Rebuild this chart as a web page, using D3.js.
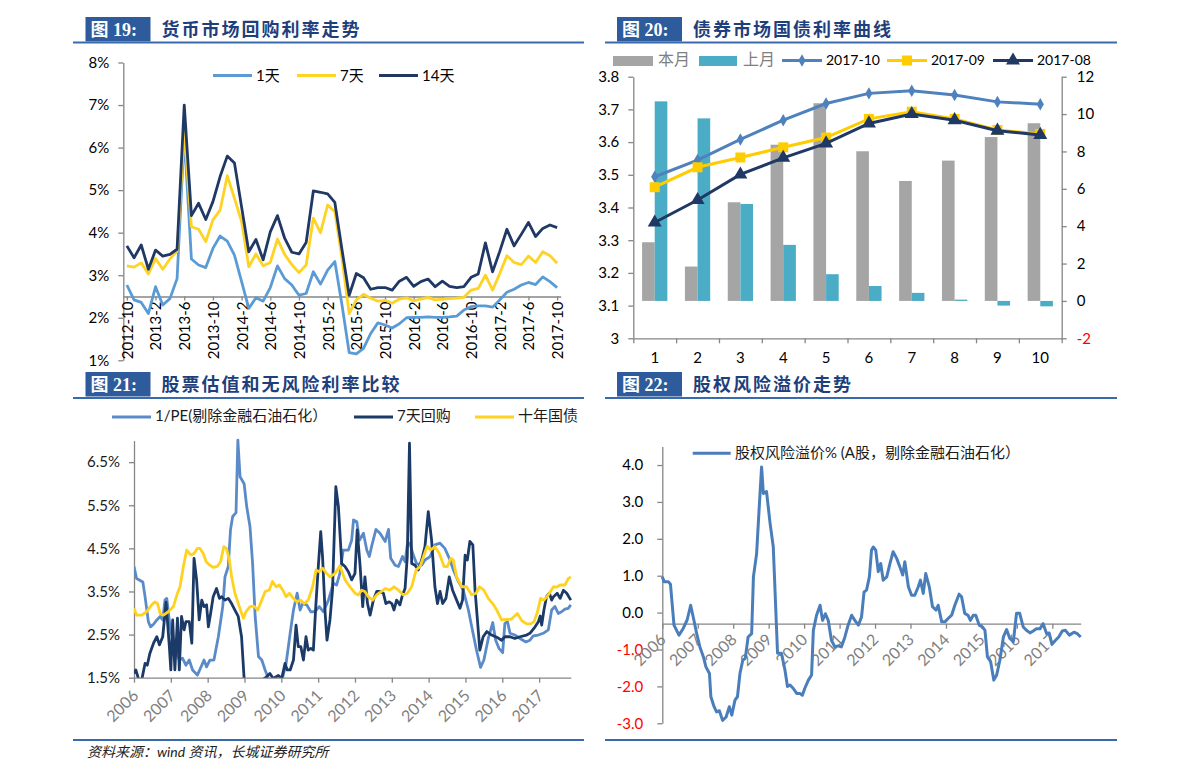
<!DOCTYPE html>
<html><head><meta charset="utf-8">
<script src="https://cdn.jsdelivr.net/npm/d3@7"></script>
<style>body{margin:0;background:#fff}svg{display:block}</style>
</head><body>
<script>
// ---------------- DATA ----------------
// Fig 19: monthly repo rates 2012-10 .. 2017-10 (%)
const repoStart = [2012, 10];
const repoTickLabels = ["2012-10","2013-2","2013-6","2013-10","2014-2","2014-6","2014-10","2015-2","2015-6","2015-10","2016-2","2016-6","2016-10","2017-2","2017-6","2017-10"];
const repo1d = [2.77,2.42,2.36,2.10,2.73,2.30,2.45,2.92,6.3,3.38,3.24,3.18,3.63,3.92,3.80,3.47,2.85,2.22,2.47,2.39,2.71,3.22,2.92,2.77,2.53,2.57,3.08,2.79,3.12,3.32,2.3,1.18,1.15,1.28,1.63,1.88,1.83,1.76,1.86,2.00,2.01,2.01,2.02,2.01,2.01,2.02,2.04,2.18,2.26,2.28,2.28,2.25,2.42,2.60,2.67,2.77,2.83,2.78,2.96,2.85,2.71];
const repo7d = [3.22,3.19,3.29,3.03,3.39,3.14,3.38,3.57,6.4,4.14,4.08,3.79,4.30,4.53,5.34,4.81,4.26,3.20,3.50,3.22,3.30,3.85,3.49,3.25,3.06,3.24,4.34,4.00,4.65,4.49,3.4,2.10,2.42,2.55,2.46,2.39,2.41,2.34,2.44,2.47,2.40,2.44,2.48,2.42,2.44,2.45,2.46,2.48,2.65,2.69,3.00,2.65,3.04,3.46,3.30,3.25,3.45,3.30,3.55,3.46,3.28];
const repo14d = [3.69,3.41,3.71,3.14,3.59,3.45,3.49,3.61,7.0,4.40,4.69,4.31,4.73,5.32,5.80,5.64,4.6,3.55,3.84,3.36,4.02,4.40,3.87,3.54,3.50,3.77,4.98,4.95,4.91,4.71,3.6,2.53,3.04,2.94,2.67,2.71,2.71,2.65,2.86,2.95,2.74,2.85,2.91,2.73,2.86,2.74,2.71,2.73,2.95,3.03,3.76,3.08,3.56,4.08,3.69,3.96,4.24,3.91,4.10,4.18,4.12];
const repoNames = ["1天","7天","14天"];

// Fig 20: bond yield curve
const tenors = [1,2,3,4,5,6,7,8,9,10];
const chgThisMonth = [3.14,1.84,5.28,8.36,10.58,8.01,6.42,7.51,8.77,9.51];
const chgLastMonth = [10.68,9.77,5.19,3.0,1.43,0.80,0.43,0.07,-0.25,-0.29];
const curve201710 = [3.494,3.545,3.608,3.667,3.718,3.749,3.757,3.744,3.723,3.716];
const curve201709 = [3.462,3.523,3.553,3.584,3.614,3.671,3.693,3.671,3.637,3.625];
const curve201708 = [3.354,3.423,3.501,3.552,3.596,3.657,3.686,3.667,3.635,3.622];
const leftTicks20 = ["3","3.1","3.2","3.3","3.4","3.5","3.6","3.7","3.8"];
const rightTicks20 = ["-2","0","2","4","6","8","10","12"];

// Fig 21: [decimal year, %]
const invPE = [[2006.00,4.08],[2006.07,3.80],[2006.24,3.72],[2006.30,3.38],[2006.39,2.80],[2006.45,2.68],[2006.53,2.74],[2006.62,2.84],[2006.71,2.92],[2006.78,2.84],[2006.84,3.30],[2006.89,3.34],[2006.98,2.68],[2007.07,2.30],[2007.16,2.10],[2007.23,1.91],[2007.32,1.95],[2007.41,1.79],[2007.50,1.91],[2007.59,1.68],[2007.72,1.56],[2007.84,1.79],[2007.90,1.91],[2007.97,1.75],[2008.06,1.91],[2008.17,1.91],[2008.29,2.45],[2008.41,3.15],[2008.47,3.84],[2008.56,4.08],[2008.62,4.93],[2008.68,5.24],[2008.77,5.33],[2008.82,7.01],[2008.88,6.16],[2008.99,6.0],[2009.06,5.47],[2009.15,5.0],[2009.22,4.15],[2009.29,2.92],[2009.38,1.99],[2009.47,1.91],[2009.56,1.68],[2009.65,1.48],[2009.80,1.3],[2010.02,1.35],[2010.04,1.52],[2010.13,1.83],[2010.24,2.53],[2010.33,3.07],[2010.43,3.46],[2010.51,3.07],[2010.58,3.22],[2010.69,3.19],[2010.80,3.03],[2010.91,3.03],[2011.03,3.15],[2011.14,3.03],[2011.28,3.30],[2011.41,3.69],[2011.50,3.65],[2011.59,3.92],[2011.68,4.46],[2011.82,4.46],[2011.91,4.69],[2011.96,5.16],[2012.05,5.12],[2012.12,4.69],[2012.23,4.85],[2012.32,4.46],[2012.39,4.31],[2012.45,4.54],[2012.57,4.94],[2012.68,4.85],[2012.82,4.66],[2012.91,4.94],[2012.97,4.27],[2013.09,4.11],[2013.18,4.08],[2013.29,4.31],[2013.36,4.19],[2013.42,4.58],[2013.49,4.62],[2013.57,4.38],[2013.67,4.15],[2013.81,4.11],[2013.90,4.23],[2014.04,4.31],[2014.17,4.58],[2014.31,4.62],[2014.44,4.50],[2014.58,4.23],[2014.67,4.00],[2014.81,3.73],[2014.94,3.53],[2015.08,3.07],[2015.17,2.68],[2015.30,2.14],[2015.41,1.74],[2015.50,1.91],[2015.62,2.41],[2015.74,2.78],[2015.82,2.37],[2015.91,2.18],[2016.01,2.08],[2016.07,2.76],[2016.14,2.80],[2016.21,2.53],[2016.34,2.49],[2016.48,2.41],[2016.64,2.33],[2016.75,2.37],[2016.84,2.47],[2016.98,2.49],[2017.11,2.53],[2017.25,2.61],[2017.34,3.07],[2017.43,3.15],[2017.52,2.99],[2017.61,3.03],[2017.70,3.09],[2017.79,3.11],[2017.86,3.19]];
const repo7dLong = [[2006.00,1.60],[2006.05,1.68],[2006.12,1.48],[2006.21,1.45],[2006.30,1.83],[2006.36,1.79],[2006.43,2.06],[2006.53,2.30],[2006.62,2.45],[2006.69,2.26],[2006.78,2.45],[2006.87,3.25],[2006.96,2.22],[2007.00,1.68],[2007.05,2.84],[2007.11,1.68],[2007.18,2.88],[2007.23,1.68],[2007.29,2.92],[2007.36,2.61],[2007.41,2.80],[2007.50,2.80],[2007.57,2.30],[2007.63,4.27],[2007.70,3.77],[2007.77,2.84],[2007.84,3.30],[2007.90,3.15],[2007.97,3.19],[2008.02,2.68],[2008.08,2.99],[2008.15,3.38],[2008.24,3.57],[2008.32,3.34],[2008.38,3.38],[2008.47,3.30],[2008.56,3.34],[2008.65,3.22],[2008.74,3.07],[2008.83,2.92],[2008.92,2.45],[2008.99,1.48],[2009.10,1.0],[2009.40,1.0],[2009.53,1.48],[2009.60,1.52],[2009.69,1.60],[2009.78,1.48],[2009.92,1.55],[2010.01,1.48],[2010.10,1.83],[2010.16,1.68],[2010.24,1.68],[2010.33,1.91],[2010.40,2.72],[2010.46,2.22],[2010.53,2.22],[2010.60,1.91],[2010.67,2.45],[2010.73,2.14],[2010.80,2.18],[2010.87,2.14],[2010.94,3.22],[2011.01,4.15],[2011.07,4.89],[2011.12,4.3],[2011.19,3.0],[2011.24,2.37],[2011.32,2.84],[2011.39,3.53],[2011.48,5.93],[2011.55,5.47],[2011.64,4.15],[2011.73,4.08],[2011.82,3.96],[2011.91,3.77],[2012.00,3.92],[2012.06,4.93],[2012.14,4.08],[2012.21,3.15],[2012.27,3.84],[2012.34,3.22],[2012.41,2.95],[2012.50,3.30],[2012.59,3.50],[2012.68,3.50],[2012.77,3.46],[2012.84,3.22],[2012.93,3.26],[2013.00,3.22],[2013.06,3.07],[2013.13,3.30],[2013.22,3.19],[2013.29,3.42],[2013.36,3.57],[2013.42,4.31],[2013.48,6.94],[2013.54,4.15],[2013.63,4.11],[2013.72,4.00],[2013.81,4.23],[2013.90,4.54],[2013.99,5.35],[2014.08,4.69],[2014.17,3.61],[2014.24,3.22],[2014.31,3.50],[2014.38,3.22],[2014.47,3.34],[2014.56,3.84],[2014.65,3.53],[2014.76,3.30],[2014.85,3.11],[2014.92,3.30],[2014.99,4.34],[2015.05,4.23],[2015.12,4.66],[2015.20,4.58],[2015.26,3.53],[2015.39,2.14],[2015.48,2.45],[2015.58,2.57],[2015.71,2.49],[2015.85,2.44],[2015.98,2.37],[2016.07,2.45],[2016.21,2.45],[2016.34,2.41],[2016.48,2.45],[2016.66,2.49],[2016.75,2.53],[2016.89,2.68],[2016.98,2.80],[2017.03,2.93],[2017.07,2.72],[2017.13,3.07],[2017.20,3.38],[2017.28,3.46],[2017.34,3.30],[2017.39,3.38],[2017.49,3.46],[2017.57,3.34],[2017.66,3.53],[2017.75,3.46],[2017.86,3.30]];
const bond10y = [[2006.00,3.11],[2006.07,2.95],[2006.21,2.95],[2006.34,3.03],[2006.48,3.19],[2006.57,3.26],[2006.64,3.22],[2006.71,2.99],[2006.80,2.95],[2006.93,3.03],[2007.07,3.15],[2007.18,3.46],[2007.25,3.61],[2007.34,4.08],[2007.43,4.46],[2007.54,4.35],[2007.63,4.38],[2007.72,4.50],[2007.79,4.50],[2007.88,4.38],[2007.96,4.19],[2008.06,4.11],[2008.15,4.06],[2008.26,4.08],[2008.35,4.19],[2008.44,4.54],[2008.51,4.50],[2008.59,4.23],[2008.65,3.84],[2008.74,3.46],[2008.86,3.15],[2008.97,2.88],[2009.04,3.03],[2009.15,3.15],[2009.26,3.16],[2009.36,3.07],[2009.47,3.30],[2009.56,3.50],[2009.67,3.53],[2009.76,3.73],[2009.86,3.61],[2009.95,3.65],[2010.04,3.53],[2010.13,3.38],[2010.22,3.46],[2010.33,3.34],[2010.42,3.26],[2010.52,3.30],[2010.62,3.22],[2010.73,3.30],[2010.85,3.61],[2010.94,4.00],[2011.03,3.96],[2011.12,4.04],[2011.23,3.92],[2011.32,3.84],[2011.46,3.92],[2011.59,4.09],[2011.73,3.77],[2011.86,3.61],[2012.00,3.46],[2012.09,3.42],[2012.18,3.53],[2012.27,3.50],[2012.36,3.38],[2012.48,3.30],[2012.59,3.42],[2012.72,3.50],[2012.82,3.57],[2012.95,3.53],[2013.06,3.61],[2013.18,3.53],[2013.31,3.42],[2013.42,3.46],[2013.54,3.61],[2013.66,4.00],[2013.77,4.08],[2013.86,4.31],[2013.96,4.55],[2014.05,4.46],[2014.17,4.54],[2014.29,4.38],[2014.42,4.08],[2014.51,4.08],[2014.60,4.27],[2014.67,4.23],[2014.76,3.84],[2014.90,3.61],[2015.03,3.61],[2015.17,3.42],[2015.29,3.46],[2015.38,3.61],[2015.50,3.53],[2015.62,3.34],[2015.74,3.22],[2015.85,3.07],[2015.98,2.84],[2016.12,2.85],[2016.25,2.86],[2016.41,2.99],[2016.53,2.82],[2016.66,2.75],[2016.77,2.75],[2016.86,2.80],[2016.95,3.01],[2017.04,3.34],[2017.13,3.30],[2017.25,3.42],[2017.39,3.61],[2017.48,3.60],[2017.57,3.65],[2017.70,3.65],[2017.79,3.80],[2017.86,3.84]];
const yTicks21 = [1.5,2.5,3.5,4.5,5.5,6.5];
const years = [2006,2007,2008,2009,2010,2011,2012,2013,2014,2015,2016,2017];

// Fig 22: equity risk premium [decimal year, %]
const erp = [[2006.00,0.97],[2006.05,0.84],[2006.17,0.84],[2006.23,0.77],[2006.33,-0.34],[2006.47,-0.61],[2006.59,-0.43],[2006.70,-0.20],[2006.80,0.20],[2006.89,-0.20],[2006.97,-0.57],[2007.06,-0.93],[2007.16,-1.20],[2007.23,-1.47],[2007.33,-1.65],[2007.37,-2.28],[2007.46,-2.55],[2007.53,-2.69],[2007.61,-2.66],[2007.70,-2.92],[2007.80,-2.83],[2007.89,-2.55],[2007.96,-2.78],[2008.05,-2.37],[2008.12,-2.28],[2008.19,-1.65],[2008.27,-1.29],[2008.34,-1.24],[2008.42,-0.66],[2008.52,-0.57],[2008.57,0.97],[2008.66,1.60],[2008.73,2.8],[2008.80,3.95],[2008.85,3.23],[2008.94,3.28],[2009.04,2.42],[2009.13,1.78],[2009.25,-1.10],[2009.36,-1.10],[2009.46,-1.56],[2009.53,-2.00],[2009.60,-1.96],[2009.69,-2.05],[2009.79,-2.19],[2009.88,-2.19],[2009.95,-2.24],[2010.02,-2.05],[2010.12,-1.83],[2010.21,-1.69],[2010.26,-0.48],[2010.35,-0.07],[2010.45,0.20],[2010.52,-0.21],[2010.60,-0.03],[2010.68,-0.21],[2010.77,-0.75],[2010.87,-0.93],[2010.96,-0.90],[2011.05,-0.93],[2011.15,-0.66],[2011.24,-0.34],[2011.34,-0.07],[2011.43,-0.21],[2011.53,-0.34],[2011.62,-0.11],[2011.69,0.56],[2011.76,0.61],[2011.84,0.97],[2011.90,1.69],[2011.95,1.78],[2012.02,1.69],[2012.09,1.11],[2012.16,1.33],[2012.23,0.88],[2012.33,0.97],[2012.42,1.33],[2012.51,1.65],[2012.61,1.47],[2012.70,1.24],[2012.78,1.02],[2012.84,1.38],[2012.94,0.70],[2013.03,0.47],[2013.12,0.47],[2013.22,0.70],[2013.28,0.88],[2013.36,0.52],[2013.43,1.06],[2013.53,0.70],[2013.62,0.16],[2013.72,0.07],[2013.78,0.20],[2013.88,-0.25],[2013.97,-0.25],[2014.06,-0.16],[2014.16,-0.07],[2014.25,0.20],[2014.37,0.50],[2014.44,0.43],[2014.53,-0.02],[2014.62,-0.07],[2014.69,-0.21],[2014.77,-0.07],[2014.84,-0.07],[2014.94,-0.34],[2015.03,-0.39],[2015.10,-0.48],[2015.17,-1.20],[2015.26,-1.33],[2015.35,-1.83],[2015.43,-1.69],[2015.52,-1.29],[2015.62,-0.66],[2015.71,-0.46],[2015.80,-0.70],[2015.90,-0.79],[2015.99,-0.02],[2016.08,-0.02],[2016.18,-0.39],[2016.27,-0.48],[2016.37,-0.55],[2016.46,-0.50],[2016.55,-0.44],[2016.65,-0.44],[2016.74,-0.30],[2016.84,-0.57],[2016.91,-0.55],[2016.99,-0.86],[2017.09,-0.75],[2017.18,-0.66],[2017.28,-0.50],[2017.37,-0.48],[2017.48,-0.61],[2017.61,-0.53],[2017.70,-0.57],[2017.80,-0.66]];
const yTicks22 = [-3,-2,-1,0,1,2,3,4];

// ---------------- DRAW ----------------
const FONT = 'Lato, "Noto Sans CJK SC", sans-serif';
const AX = '#868686';
const svg = d3.select('body').append('svg').attr('width',1191).attr('height',780)
  .style('background','#fff').attr('font-family',FONT);

function header(bx, by, label, title, lx1, lx2, ly){
  svg.append('rect').attr('x',bx).attr('y',by).attr('width',65).attr('height',24.5).attr('fill','#2D5B9B');
  svg.append('text').attr('x',bx+5).attr('y',by+19).text(label).attr('fill','#fff')
    .attr('font-size',18).attr('font-weight','bold').attr('font-family','"Liberation Serif","Noto Sans CJK SC",serif');
  svg.append('text').attr('x',bx+76).attr('y',by+19).text(title).attr('fill','#1F3F7C')
    .attr('font-size',18).attr('letter-spacing',2).attr('font-weight','bold').attr('font-family','"Noto Sans CJK SC",sans-serif');
  svg.append('line').attr('x1',lx1).attr('x2',lx2).attr('y1',ly).attr('y2',ly).attr('stroke','#3A6AAE').attr('stroke-width',2);
}
header(85.5,17,'图 19:','货币市场回购利率走势',73,584,42.5);
header(617,17,'图 20:','债券市场国债利率曲线',605,1117,42.5);
header(85.5,372,'图 21:','股票估值和无风险利率比较',73,584,398);
header(617,372,'图 22:','股权风险溢价走势',605,1117,398);
svg.append('line').attr('x1',73).attr('x2',584).attr('y1',740).attr('y2',740).attr('stroke','#3A6AAE').attr('stroke-width',2);
svg.append('line').attr('x1',605).attr('x2',1117).attr('y1',740).attr('y2',740).attr('stroke','#3A6AAE').attr('stroke-width',2);
svg.append('text').attr('x',87).attr('y',757).text('资料来源：wind 资讯，长城证券研究所')
  .attr('font-size',14).attr('font-style','italic').attr('fill','#222');

function styleAxis(g, size, color){
  g.attr('font-family',FONT).attr('font-size',size);
  g.selectAll('.domain').attr('stroke',AX).attr('stroke-width',1.3);
  g.selectAll('.tick line').attr('stroke',AX).attr('stroke-width',1.3);
  g.selectAll('.tick text').attr('fill',color||'#000');
}

// ===== Fig 19 =====
(function(){
  const months = repo1d.map((_,i)=>{const k=repoStart[1]-1+i; return (repoStart[0]+Math.floor(k/12))+'-'+(k%12+1);});
  const x = d3.scalePoint().domain(months).range([123.3,560.7]).padding(0.5);
  const y = d3.scaleLinear().domain([1,8]).range([360.3,62.5]);
  const gy = svg.append('g').attr('transform','translate(123.3,0)')
    .call(d3.axisLeft(y).tickValues(d3.range(1,9)).tickSize(5).tickSizeOuter(0).tickPadding(9).tickFormat(d=>d+'%'));
  styleAxis(gy,15);
  const gx = svg.append('g').attr('transform',`translate(0,${y(2.5)})`)
    .call(d3.axisBottom(x).tickValues(repoTickLabels).tickSize(4).tickSizeOuter(0));
  styleAxis(gx,15);
  gx.selectAll('.tick text').attr('transform','rotate(-90)').attr('x',-5).attr('y',0).attr('dy','0.36em').attr('text-anchor','end');
  const series = [repo1d,repo7d,repo14d], cols = ['#5B9BD5','#FFD324','#1F3864'];
  series.forEach((s,k)=>{
    svg.append('path').datum(s).attr('fill','none').attr('stroke',cols[k]).attr('stroke-width',2.8).attr('stroke-linejoin','round')
      .attr('d',d3.line().x((d,i)=>x(months[i])).y(d=>y(d)));
  });
  const lx=[213,297,379];
  repoNames.forEach((n,k)=>{
    svg.append('line').attr('x1',lx[k]).attr('x2',lx[k]+39).attr('y1',75.5).attr('y2',75.5).attr('stroke',cols[k]).attr('stroke-width',3);
    svg.append('text').attr('x',lx[k]+43).attr('y',75.5).attr('dy','0.35em').text(n).attr('font-size',15).attr('fill','#000');
  });
})();

// ===== Fig 20 =====
(function(){
  const x = d3.scaleBand().domain(tenors).range([633.3,1061.7]).paddingInner(0.41).paddingOuter(0.205);
  const xs = d3.scaleBand().domain(['本月','上月']).range([0,x.bandwidth()]);
  const yL = d3.scaleLinear().domain([3,3.8]).range([338.3,76.7]);
  const yR = d3.scaleLinear().domain([-2,12]).range([338.3,76.7]);
  const gl = svg.append('g').attr('transform','translate(633.3,0)')
    .call(d3.axisLeft(yL).tickValues(leftTicks20.map(Number)).tickFormat((d,i)=>leftTicks20[i]).tickSize(5).tickSizeOuter(0).tickPadding(9));
  styleAxis(gl,15);
  const gr = svg.append('g').attr('transform','translate(1061.7,0)')
    .call(d3.axisRight(yR).tickValues(rightTicks20.map(Number)).tickFormat((d,i)=>rightTicks20[i]).tickSize(5).tickSizeOuter(0).tickPadding(10));
  styleAxis(gr,15);
  gr.selectAll('.tick text').attr('fill',d=>d<0?'#FF0000':'#000');
  const xb = d3.scaleLinear().domain([0,tenors.length]).range([633.3,1061.7]);
  const gb = svg.append('g').attr('transform','translate(0,338.3)')
    .call(d3.axisBottom(xb).tickValues(d3.range(0,tenors.length+1)).tickFormat('').tickSize(5).tickSizeOuter(0));
  styleAxis(gb,15);
  const gc = svg.append('g').attr('transform','translate(0,338.3)')
    .call(d3.axisBottom(x).tickSize(0).tickPadding(14));
  gc.select('.domain').remove();
  gc.attr('font-family',FONT).attr('font-size',15).selectAll('text').attr('fill','#000');
  // bars
  const bars=[[chgThisMonth,'本月','#A5A5A5'],[chgLastMonth,'上月','#4BACC6']];
  bars.forEach(([vals,key,col])=>{
    svg.append('g').selectAll('rect').data(vals).join('rect')
      .attr('x',(d,i)=>x(tenors[i])+xs(key)).attr('width',xs.bandwidth())
      .attr('y',d=>yR(Math.max(0,d))).attr('height',d=>Math.abs(yR(d)-yR(0))).attr('fill',col);
  });
  const cx = t=>x(t)+x.bandwidth()/2;
  const lines=[[curve201710,'#4F81BD',d3.symbolDiamond,45],[curve201709,'#FFCC00',d3.symbolSquare,100],[curve201708,'#1F3864',d3.symbolTriangle,85]];
  lines.forEach(([vals,col,sym,sz])=>{
    svg.append('path').datum(vals).attr('fill','none').attr('stroke',col).attr('stroke-width',3)
      .attr('d',d3.line().x((d,i)=>cx(tenors[i])).y(d=>yL(d)));
    svg.append('g').selectAll('path').data(vals).join('path')
      .attr('transform',(d,i)=>`translate(${cx(tenors[i])},${yL(d)})`)
      .attr('d',d3.symbol().type(sym).size(sz)).attr('fill',col);
  });
  // legend
  const ly=60.5;
  svg.append('rect').attr('x',613).attr('y',56).attr('width',40).attr('height',10).attr('fill','#A5A5A5');
  svg.append('text').attr('x',658).attr('y',ly-1.5).attr('dy','0.35em').text('本月').attr('font-size',16).attr('fill','#7F7F7F');
  svg.append('rect').attr('x',699).attr('y',56).attr('width',38).attr('height',10).attr('fill','#4BACC6');
  svg.append('text').attr('x',743).attr('y',ly-1.5).attr('dy','0.35em').text('上月').attr('font-size',16).attr('fill','#7F7F7F');
  const leg=[[782,'2017-10',lines[0]],[887,'2017-09',lines[1]],[993,'2017-08',lines[2]]];
  leg.forEach(([lx,t,[v,col,sym,sz]])=>{
    svg.append('line').attr('x1',lx).attr('x2',lx+40).attr('y1',ly).attr('y2',ly).attr('stroke',col).attr('stroke-width',3);
    svg.append('path').attr('transform',`translate(${lx+20},${ly})`).attr('d',d3.symbol().type(sym).size(sz)).attr('fill',col);
    svg.append('text').attr('x',lx+44).attr('y',ly).attr('dy','0.35em').text(t).attr('font-size',14).attr('fill','#000');
  });
})();

// ===== Fig 21 =====
(function(){
  const x = d3.scaleLinear().domain([2006,2017.86]).range([134,570.8]);
  const y = d3.scaleLinear().domain([1.5,7.0]).range([677.7,440.6]);
  svg.append('clipPath').attr('id','clip21').append('rect').attr('x',134).attr('y',438).attr('width',440).attr('height',239.7);
  const gy = svg.append('g').attr('transform','translate(134,0)')
    .call(d3.axisLeft(y).tickValues(yTicks21).tickSize(5).tickSizeOuter(0).tickPadding(9).tickFormat(d=>d.toFixed(1)+'%'));
  styleAxis(gy,15,'#1a1a1a');
  const gx = svg.append('g').attr('transform','translate(0,677.7)')
    .call(d3.axisBottom(x).tickValues(years).tickFormat(d3.format('d')).tickSize(5).tickSizeOuter(0));
  styleAxis(gx,16,'#7F7F7F');
  gx.selectAll('.tick text').attr('text-anchor','end').attr('x',0).attr('y',0).attr('dy',0)
    .attr('transform','translate(5,19) rotate(-45)');
  const sers=[[invPE,'#5A8BC8'],[repo7dLong,'#1B3A68'],[bond10y,'#FFD21F']];
  sers.forEach(([s,c])=>{
    svg.append('path').datum(s).attr('clip-path','url(#clip21)').attr('fill','none').attr('stroke',c).attr('stroke-width',2.8).attr('stroke-linejoin','round')
      .attr('d',d3.line().x(d=>x(d[0])).y(d=>y(d[1])));
  });
  const leg=[[112,'1/PE(剔除金融石油石化）','#5A8BC8'],[354,'7天回购','#1B3A68'],[475,'十年国债','#FFD21F']];
  leg.forEach(([lx,t,c])=>{
    svg.append('line').attr('x1',lx).attr('x2',lx+39).attr('y1',417).attr('y2',417).attr('stroke',c).attr('stroke-width',3);
    svg.append('text').attr('x',lx+43).attr('y',416).attr('dy','0.35em').text(t).attr('font-size',15).attr('fill','#1a1a1a');
  });
})();

// ===== Fig 22 =====
(function(){
  const x = d3.scaleLinear().domain([2006,2017.8]).range([662.3,1080.7]);
  const y = d3.scaleLinear().domain([-3,4.5]).range([723.3,446.6]);
  const gy = svg.append('g').attr('transform','translate(662.3,0)')
    .call(d3.axisLeft(y).tickValues(yTicks22).tickSize(5).tickSizeOuter(0).tickPadding(14).tickFormat(d3.format('.1f')));
  styleAxis(gy,15);
  gy.selectAll('.tick text').attr('fill',d=>d<0?'#FF0000':'#000').text(d=>d3.format('.1f')(d).replace('−','-'));
  const gx = svg.append('g').attr('transform',`translate(0,${y(-0.3)})`)
    .call(d3.axisBottom(x).tickValues(years).tickFormat(d3.format('d')).tickSize(5).tickSizeOuter(0));
  styleAxis(gx,16,'#7F7F7F');
  gx.selectAll('.tick text').attr('text-anchor','end').attr('x',0).attr('y',0).attr('dy',0)
    .attr('transform','translate(4,17) rotate(-45)');
  svg.append('path').datum(erp).attr('fill','none').attr('stroke','#4A7EBB').attr('stroke-width',3).attr('stroke-linejoin','round')
    .attr('d',d3.line().x(d=>x(d[0])).y(d=>y(d[1])));
  svg.append('line').attr('x1',692.7).attr('x2',730.7).attr('y1',453.3).attr('y2',453.3).attr('stroke','#4A7EBB').attr('stroke-width',3);
  svg.append('text').attr('x',735).attr('y',452.5).attr('dy','0.35em').text('股权风险溢价% (A股，剔除金融石油石化）').attr('font-size',15).attr('fill','#1a1a1a');
})();
</script></body></html>
